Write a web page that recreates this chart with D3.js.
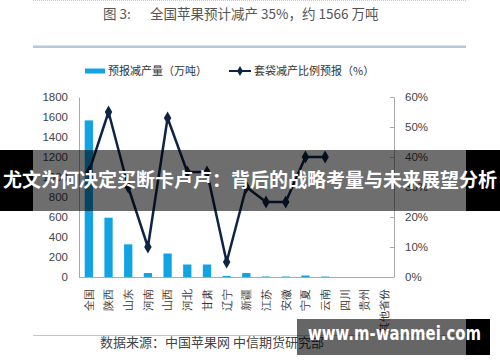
<!DOCTYPE html>
<html>
<head>
<meta charset="utf-8">
<script src="https://cdn.jsdelivr.net/npm/d3@7"></script>
<style>
  html, body { margin: 0; padding: 0; background: #fff; }
  svg { display: block; font-family: "Noto Sans CJK SC", "Noto Sans", sans-serif; }
</style>
</head>
<body>
<div id="chart"></div>
<script>
const categories = ['全国', '陕西', '山东', '河南', '山西', '河北', '甘肃', '辽宁',
  '新疆', '江苏', '安徽', '宁夏', '云南', '四川', '贵州', '其他省份'];
// 预报减产量（万吨）
const cutVolume = [1566, 593, 327, 40, 235, 125, 125, 10, 40, 5, 5, 15, 5, 0, 0, 0];
// 套袋减产比例预报（%）
const baggingCutPct = [35, 55, 30, 10, 53, 35, 35, 5, 30, 25, 25, 40, 40, null, null, null];
const leftTicks = [0, 200, 400, 600, 800, 1000, 1200, 1400, 1600, 1800];
const rightTicks = [0, 10, 20, 30, 40, 50, 60];

const width = 500;
const height = 362;
const plot = { left: 79, right: 394, top: 97, bottom: 277 };

const barColor = '#12a3e2';
const lineColor = '#0e2444';
const axisColor = '#a9a9a9';

const svg = d3.select('#chart').append('svg')
  .attr('width', width)
  .attr('height', height);

svg.append('rect')
  .attr('width', width)
  .attr('height', height)
  .attr('fill', '#fff');

// header
svg.append('line')
  .attr('x1', 33).attr('x2', 466)
  .attr('y1', 0.5).attr('y2', 0.5)
  .attr('stroke', '#c8c8c8')
  .attr('stroke-dasharray', '1,1');

svg.append('text')
  .attr('x', 103).attr('y', 19)
  .attr('font-size', 13.5)
  .attr('fill', '#555')
  .text('图 3:');

svg.append('text')
  .attr('x', 150).attr('y', 19)
  .attr('font-size', 13.5)
  .attr('fill', '#555')
  .text('全国苹果预计减产 35%，约 1566 万吨');

svg.append('rect')
  .attr('x', 33).attr('y', 45.5)
  .attr('width', 433).attr('height', 2.5)
  .attr('fill', '#b7c6d9');

// legend
const legend = svg.append('g').attr('font-size', 11).attr('fill', '#333');
legend.append('rect')
  .attr('x', 85).attr('y', 68.5)
  .attr('width', 20).attr('height', 5)
  .attr('fill', barColor);
legend.append('text')
  .attr('x', 108).attr('y', 75)
  .text('预报减产量（万吨）');
legend.append('line')
  .attr('x1', 229).attr('x2', 251)
  .attr('y1', 71).attr('y2', 71)
  .attr('stroke', lineColor)
  .attr('stroke-width', 2);
legend.append('path')
  .attr('transform', 'translate(240,71)')
  .attr('d', d3.symbol(d3.symbolDiamond, 30)())
  .attr('fill', lineColor);
legend.append('text')
  .attr('x', 254).attr('y', 75)
  .text('套袋减产比例预报（%）');

// scales
const x = d3.scaleBand()
  .domain(categories)
  .range([plot.left, plot.right])
  .paddingInner(0.58)
  .paddingOuter(0.29);

const xCenter = d => x(d) + x.bandwidth() / 2;

const yLeft = d3.scaleLinear()
  .domain([0, 1800])
  .range([plot.bottom, plot.top]);

const yRight = d3.scaleLinear()
  .domain([0, 60])
  .range([plot.bottom, plot.top]);

// bars
svg.append('g')
  .selectAll('rect')
  .data(categories)
  .join('rect')
  .attr('x', d => x(d))
  .attr('y', (d, i) => yLeft(cutVolume[i]))
  .attr('width', x.bandwidth())
  .attr('height', (d, i) => plot.bottom - yLeft(cutVolume[i]))
  .attr('fill', barColor);

// axes
const leftAxis = svg.append('g')
  .attr('transform', `translate(${plot.left},0)`)
  .call(d3.axisLeft(yLeft)
    .tickValues(leftTicks)
    .tickSize(0)
    .tickPadding(11)
    .tickFormat(d3.format('d')));

const rightAxis = svg.append('g')
  .attr('transform', `translate(${plot.right},0)`)
  .call(d3.axisRight(yRight)
    .tickValues(rightTicks)
    .tickSizeInner(-4)
    .tickSizeOuter(0)
    .tickPadding(11)
    .tickFormat(d => `${d}%`));

[leftAxis, rightAxis].forEach(g => {
  g.select('.domain').attr('stroke', axisColor);
  g.selectAll('.tick line').attr('stroke', axisColor);
  g.selectAll('.tick text')
    .attr('font-size', 11.5)
    .attr('fill', '#444')
    .attr('font-family', 'Arial, "Liberation Sans", sans-serif');
});

const bottomAxis = svg.append('g')
  .attr('transform', `translate(0,${plot.bottom})`)
  .call(d3.axisBottom(x).tickSize(0).tickPadding(0));

bottomAxis.select('.domain')
  .attr('stroke', axisColor)
  .attr('d', `M${plot.left},0.5H${plot.right}`);

bottomAxis.selectAll('.tick text')
  .attr('transform', 'translate(0,12) rotate(-90)')
  .attr('text-anchor', 'end')
  .attr('dy', '0.35em')
  .attr('y', 0)
  .attr('x', 0)
  .attr('font-size', 11)
  .attr('fill', '#333');

// line series
const pts = categories
  .map((c, i) => ({ c, v: baggingCutPct[i] }))
  .filter(p => p.v !== null);

const line = d3.line()
  .x(p => xCenter(p.c))
  .y(p => yRight(p.v));

svg.append('path')
  .datum(pts)
  .attr('d', line)
  .attr('fill', 'none')
  .attr('stroke', lineColor)
  .attr('stroke-width', 2.5)
  .attr('stroke-linejoin', 'round');

svg.append('g')
  .selectAll('path')
  .data(pts)
  .join('path')
  .attr('transform', p => `translate(${xCenter(p.c)},${yRight(p.v)})`)
  .attr('d', d3.symbol(d3.symbolDiamond, 48)())
  .attr('fill', lineColor);

// footer
svg.append('line')
  .attr('x1', 33).attr('x2', 466)
  .attr('y1', 335.5).attr('y2', 335.5)
  .attr('stroke', '#b7c6d9');

svg.append('text')
  .attr('x', 100).attr('y', 347)
  .attr('font-size', 13)
  .attr('fill', '#444')
  .text('数据来源：中国苹果网 中信期货研究部');

// overlay banner
svg.append('rect')
  .attr('x', 0).attr('y', 150)
  .attr('width', width).attr('height', 61)
  .attr('fill', '#000')
  .attr('fill-opacity', 0.57);
svg.append('rect')
  .attr('x', 0).attr('y', 150)
  .attr('width', 33).attr('height', 61)
  .attr('fill', '#000');
svg.append('rect')
  .attr('x', 466).attr('y', 150)
  .attr('width', 34).attr('height', 61)
  .attr('fill', '#000');

svg.append('text')
  .attr('x', 3).attr('y', 187)
  .attr('font-size', 19)
  .attr('font-weight', 'bold')
  .attr('fill', '#fff')
  .attr('textLength', 494)
  .attr('lengthAdjust', 'spacingAndGlyphs')
  .text('尤文为何决定买断卡卢卢：背后的战略考量与未来展望分析');

// site watermark
svg.append('rect')
  .attr('x', 297).attr('y', 319)
  .attr('width', 193).attr('height', 36)
  .attr('fill', '#000')
  .attr('fill-opacity', 0.6);
svg.append('rect')
  .attr('x', 466).attr('y', 319)
  .attr('width', 24).attr('height', 36)
  .attr('fill', '#000');

svg.append('text')
  .attr('x', 308).attr('y', 340)
  .attr('font-size', 20)
  .attr('font-weight', 'bold')
  .attr('fill', '#fff')
  .attr('font-family', '"DejaVu Sans", sans-serif')
  .attr('textLength', 173)
  .attr('lengthAdjust', 'spacingAndGlyphs')
  .text('www.m-wanmei.com');
</script>
</body>
</html>
